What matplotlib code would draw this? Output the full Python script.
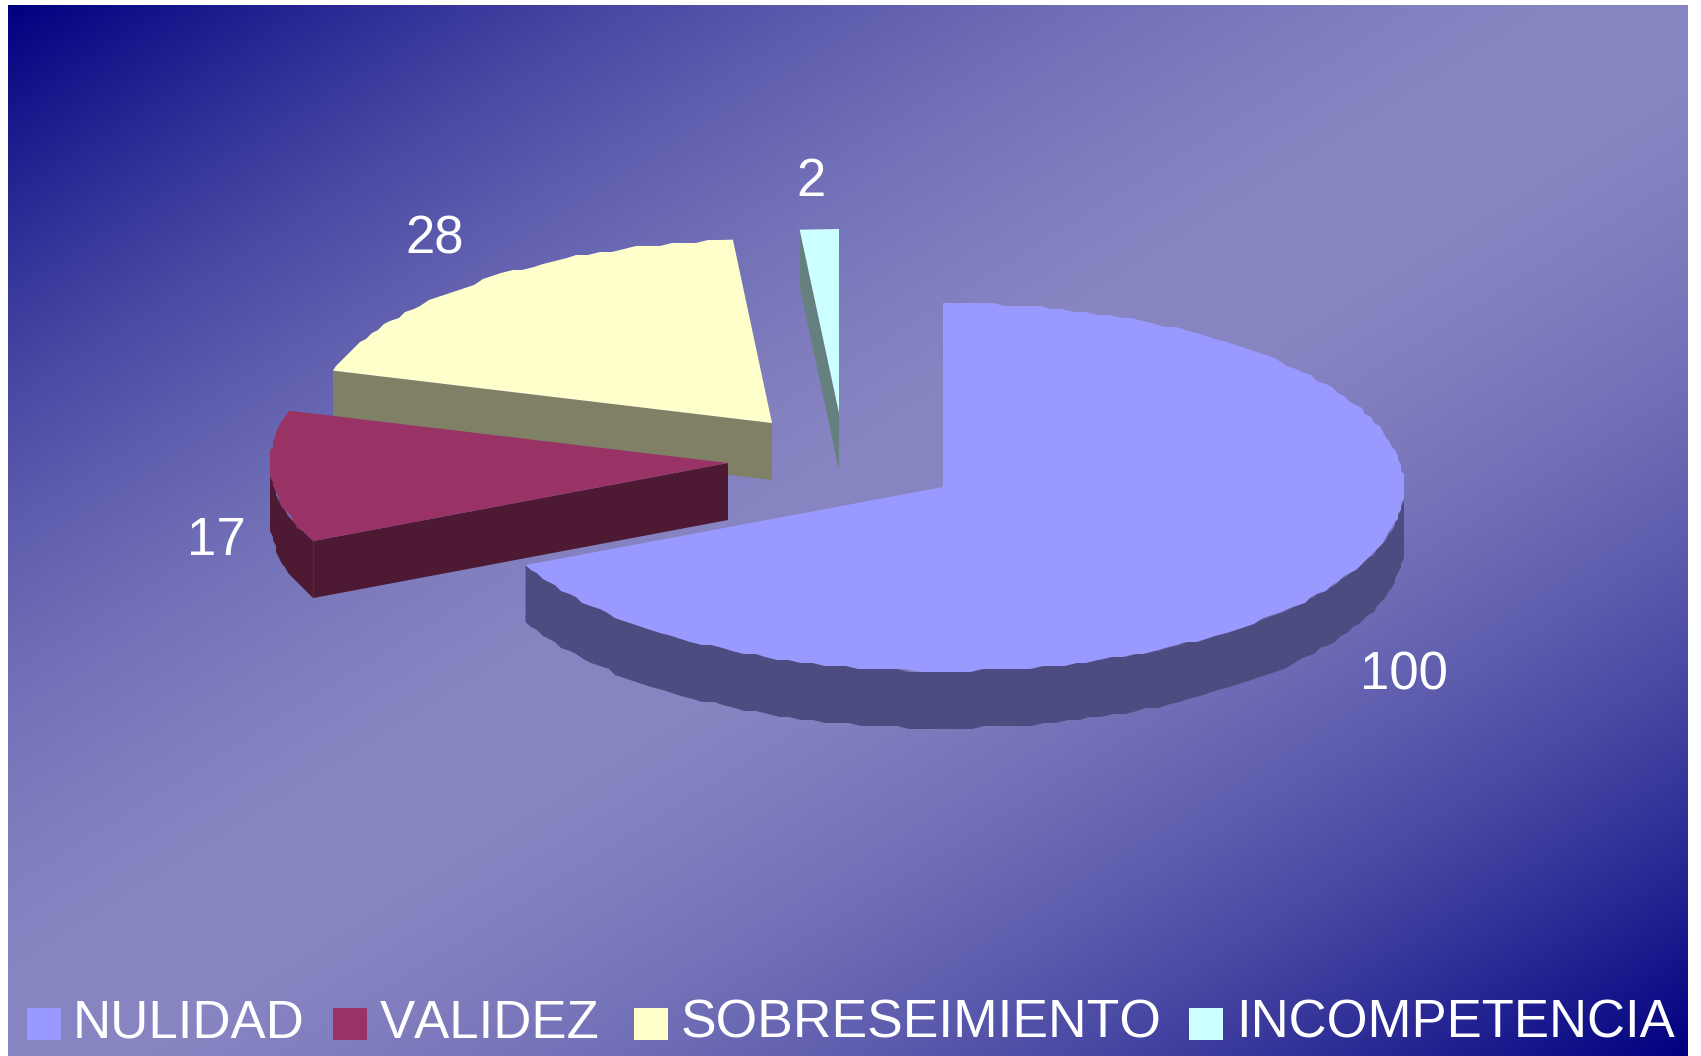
import numpy as np
import matplotlib
matplotlib.use("Agg")
import matplotlib.pyplot as plt
from matplotlib.patches import Polygon, Rectangle

plt.rcParams['font.family'] = ['Liberation Sans', 'DejaVu Sans']
plt.rcParams['text.kerning_factor'] = 6

categories = ["NULIDAD", "VALIDEZ", "SOBRESEIMIENTO", "INCOMPETENCIA"]
values = [100, 17, 28, 2]

top_colors = ["#9999FF", "#993366", "#FFFFCC", "#CCFFFF"]
side_colors = ["#4C4C80", "#4D1933", "#808066", "#668080"]

# layout in pixels of the 1701x1056 picture
W, H = 1701, 1056
tips = [(943, 487), (728, 463), (772, 423), (839, 413)]
radius_x = [461, 458, 458, 461]
ry, depth = 184, 57
label_pos = [(1404, 690), (216, 555), (435, 253), (811, 196)]
label_fs = 38
legend_box_x = [27, 333, 634, 1189]
legend_text_x = [73, 380, 681, 1236]
legend_fs = [38, 38, 38.5, 37.9]

fig = plt.figure(figsize=(W / 100, H / 100), dpi=100)
ax = fig.add_axes([0, 0, 1, 1])
ax.set_xlim(0, W)
ax.set_ylim(H, 0)
ax.axis("off")

# diagonal background, dark corners top left and bottom right
dark = np.array([0, 0, 128]) / 255
light = np.array([136, 134, 194]) / 255
yy, xx = np.mgrid[0:1:500j, 0:1:800j]
t = 1 - np.abs(xx + yy - 1)
f = 1 - (1 - t) ** 1.7
bg = dark + (light - dark) * f[..., None]
ax.imshow(bg, extent=(8, 1687, 1056, 5), aspect="auto", zorder=0)
ax.set_xlim(0, W)
ax.set_ylim(H, 0)


def arc(tip, rx, a0, a1):
    # angles clockwise from 12 o'clock, slightly stepped edge like the original
    span = a1 - a0
    n = 2 if span < 6 else int(span / 1.5)
    a = np.radians(np.linspace(a0, a1, n))
    x = tip[0] + rx * np.sin(a)
    y = tip[1] - ry * np.cos(a)
    x[1:-1] = np.round(x[1:-1] / 3) * 3
    y[1:-1] = np.round(y[1:-1] / 3) * 3
    return np.column_stack([x, y])


total = sum(values)
angles = np.cumsum([0] + values) / total * 360

order = [3, 2, 1, 0]
for z, i in enumerate(order):
    a0, a1 = angles[i], angles[i + 1]
    tip = tips[i]
    rx = radius_x[i]
    down = np.array([0, depth])
    zz = 2 + z

    # outer wall, only the front half shows
    w0, w1 = max(a0, 90), min(a1, 270)
    if w1 > w0:
        p = arc(tip, rx, w0, w1)
        ax.add_patch(Polygon(np.vstack([p, p[::-1] + down]), closed=True,
                             fc=side_colors[i], ec="none", zorder=zz))

    # cut face at the start of the slice
    if 180 < a0 < 360:
        p = arc(tip, rx, a0, a0 + 0.01)[0]
        quad = [p, tip, np.array(tip) + down, p + down]
        ax.add_patch(Polygon(quad, closed=True, fc=side_colors[i], ec="none", zorder=zz))

    top = np.vstack([[tip], arc(tip, rx, a0, a1)])
    ax.add_patch(Polygon(top, closed=True, fc=top_colors[i], ec="none", zorder=zz + 0.5))

for v, (x, y) in zip(values, label_pos):
    ax.text(x, y, str(v), color="white", fontsize=label_fs, ha="center", va="baseline", zorder=10)

for name, c, bx, tx, fs in zip(categories, top_colors, legend_box_x, legend_text_x, legend_fs):
    ax.add_patch(Rectangle((bx, 1008), 34, 32, fc=c, ec="none", zorder=10))
    ax.text(tx, 1038, name, color="white", fontsize=fs, ha="left", va="baseline", zorder=10)

fig.savefig("out.png", dpi=100)
